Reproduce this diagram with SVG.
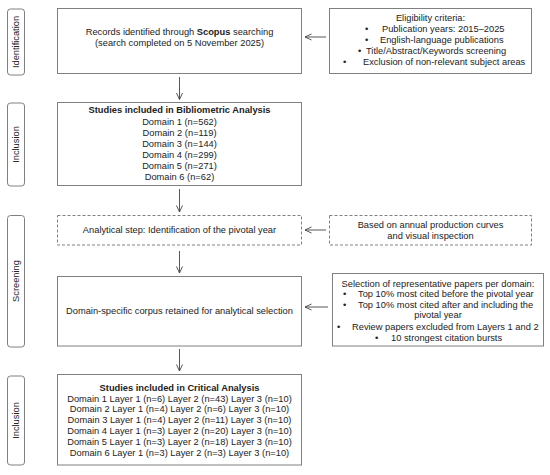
<svg xmlns="http://www.w3.org/2000/svg" width="550" height="475" viewBox="0 0 550 475">
<style>
text{font-family:"Liberation Sans",Arial,sans-serif;font-size:9.3px;fill:#222;}
.c{text-anchor:middle;}
.b{font-weight:bold;}
.box{fill:#fff;stroke:#808080;stroke-width:1;}
.dash{fill:#fff;stroke:#808080;stroke-width:1;stroke-dasharray:3 2;}
.side{fill:#fff;stroke:#808080;stroke-width:1;}
.conn line{stroke:#444;stroke-width:0.9;marker-end:url(#ah);}
</style>
<defs>
<marker id="ah" viewBox="0 0 8 8" refX="7.5" refY="4" markerWidth="8" markerHeight="8" markerUnits="userSpaceOnUse" orient="auto">
<path d="M1,1 L7.5,4 L1,7" fill="none" stroke="#444" stroke-width="0.9"/>
</marker>
</defs>
<rect width="550" height="475" fill="#fff"/>

<g id="side-identification">
<rect class="side" x="7.5" y="9" width="17" height="66" rx="3"/>
<text class="c" transform="translate(19.3,42) rotate(-90)">Identification</text>
</g>
<g id="side-inclusion1">
<rect class="side" x="7.5" y="103" width="17" height="83" rx="3"/>
<text class="c" transform="translate(19.3,144.5) rotate(-90)">Inclusion</text>
</g>
<g id="side-screening">
<rect class="side" x="7.5" y="215.5" width="17" height="131.5" rx="3"/>
<text class="c" transform="translate(19.3,281) rotate(-90)">Screening</text>
</g>
<g id="side-inclusion2">
<rect class="side" x="7.5" y="376" width="17" height="89" rx="3"/>
<text class="c" transform="translate(19.3,420.5) rotate(-90)">Inclusion</text>
</g>

<g id="records">
<rect class="box" x="57.5" y="8.5" width="244" height="65"/>
<text class="c" x="179.5" y="35.3">Records identified through <tspan class="b">Scopus</tspan> searching</text>
<text class="c" x="179.5" y="46.3">(search completed on 5 November 2025)</text>
</g>

<g id="eligibility">
<rect class="box" x="329.5" y="8.5" width="202" height="65"/>
<text class="c" x="430.5" y="21.3">Eligibility criteria:</text>
<text x="365" y="32.3">•</text><text x="382" y="32.3">Publication years: 2015–2025</text>
<text x="365" y="43.3">•</text><text x="380" y="43.3">English-language publications</text>
<text x="358" y="54.3">•</text><text x="366" y="54.3">Title/Abstract/Keywords screening</text>
<text x="343" y="65.3">•</text><text x="363" y="65.3">Exclusion of non-relevant subject areas</text>
</g>

<g id="bibliometric">
<rect class="box" x="57.5" y="102.5" width="244" height="83"/>
<text class="c b" x="179.5" y="113.3">Studies included in Bibliometric Analysis</text>
<text class="c" x="179.5" y="124.8">Domain 1 (n=562)</text>
<text class="c" x="179.5" y="135.8">Domain 2 (n=119)</text>
<text class="c" x="179.5" y="146.8">Domain 3 (n=144)</text>
<text class="c" x="179.5" y="157.8">Domain 4 (n=299)</text>
<text class="c" x="179.5" y="168.8">Domain 5 (n=271)</text>
<text class="c" x="179.5" y="179.8">Domain 6 (n=62)</text>
</g>

<g id="pivotal">
<rect class="dash" x="57.5" y="215.5" width="244" height="29.5"/>
<text class="c" x="179.5" y="233.3">Analytical step: Identification of the pivotal year</text>
</g>

<g id="annual">
<rect class="dash" x="329.5" y="215.5" width="202" height="29.5"/>
<text class="c" x="430.5" y="228.3">Based on annual production curves</text>
<text class="c" x="430.5" y="239.3">and visual inspection</text>
</g>

<g id="corpus">
<rect class="box" x="57.5" y="276.5" width="244" height="69.5"/>
<text class="c" x="179.5" y="314">Domain-specific corpus retained for analytical selection</text>
</g>

<g id="selection">
<rect class="box" x="332.5" y="273.5" width="211" height="72.5"/>
<text class="c" x="438" y="286.5">Selection of representative papers per domain:</text>
<text x="343" y="297">•</text><text x="358" y="297">Top 10% most cited before the pivotal year</text>
<text x="343" y="307.5">•</text><text x="358" y="307.5">Top 10% most cited after and including the</text>
<text class="c" x="438" y="318">pivotal year</text>
<text x="337" y="329.5">•</text><text x="352" y="329.5">Review papers excluded from Layers 1 and 2</text>
<text x="375" y="341">•</text><text x="391" y="341">10 strongest citation bursts</text>
</g>

<g id="critical">
<rect class="box" x="57.5" y="374.5" width="244" height="90.5"/>
<text class="c b" x="179.5" y="390.5">Studies included in Critical Analysis</text>
<text class="c" x="179.5" y="401.5">Domain 1 Layer 1 (n=6) Layer 2 (n=43) Layer 3 (n=10)</text>
<text class="c" x="179.5" y="412.4">Domain 2 Layer 1 (n=4) Layer 2 (n=6) Layer 3 (n=10)</text>
<text class="c" x="179.5" y="423.3">Domain 3 Layer 1 (n=4) Layer 2 (n=11) Layer 3 (n=10)</text>
<text class="c" x="179.5" y="434.2">Domain 4 Layer 1 (n=3) Layer 2 (n=20) Layer 3 (n=10)</text>
<text class="c" x="179.5" y="445.1">Domain 5 Layer 1 (n=3) Layer 2 (n=18) Layer 3 (n=10)</text>
<text class="c" x="179.5" y="456">Domain 6 Layer 1 (n=3) Layer 2 (n=3) Layer 3 (n=10)</text>
</g>

<g id="connectors" class="conn">
<line x1="179.5" y1="77" x2="179.5" y2="99.5"/>
<line x1="179.5" y1="189" x2="179.5" y2="212"/>
<line x1="179.5" y1="251" x2="179.5" y2="273"/>
<line x1="179.5" y1="349" x2="179.5" y2="371"/>
<line x1="326" y1="37" x2="305" y2="37"/>
<line x1="326" y1="230" x2="305" y2="230"/>
<line x1="328" y1="307" x2="305" y2="307"/>
</g>
</svg>
